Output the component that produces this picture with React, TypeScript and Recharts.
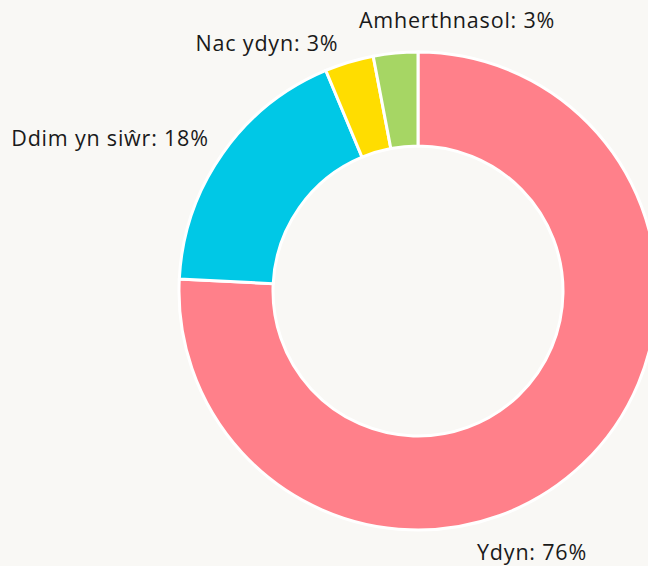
import React from "react";
import { PieChart, Pie, Cell } from "recharts";

// answer categories (Welsh) and their share of responses (%)
const categories: string[] = ["Ydyn", "Ddim yn siŵr", "Nac ydyn", "Amherthnasol"];
const shares: number[] = [75.8, 17.9, 3.3, 3.0];

const colors = ["#ff808a", "#00c8e6", "#ffdd00", "#a6d664"];

// label anchor offsets from the pie centre (text centre x, baseline y)
const labelOffsets = [
  { dx: 114, dy: 269 },
  { dx: -308, dy: -145 },
  { dx: -151, dy: -240 },
  { dx: 39, dy: -263 },
];

const data = categories.map((name, i) => ({
  name,
  value: shares[i],
}));

const CX = 418;
const CY = 291;

const renderLabel = (props: any) => {
  const { index, cx, cy } = props;
  const off = labelOffsets[index];
  const d = data[index];
  return (
    <text
      x={cx + off.dx}
      y={cy + off.dy}
      textAnchor="middle"
      fill="#1a1a1a"
      fontSize={21.5}
      letterSpacing={0.8}
      fontFamily="'Open Sans', sans-serif"
    >
      {`${d.name}: ${Math.round(d.value)}%`}
    </text>
  );
};

export default function App() {
  return (
    <div
      style={{
        position: "fixed",
        left: 0,
        top: 0,
        width: 648,
        height: 566,
        background: "#f9f8f5",
        overflow: "hidden",
      }}
    >
      <PieChart width={648} height={566} margin={{ top: 0, right: 0, bottom: 0, left: 0 }}>
        <Pie
          data={data}
          dataKey="value"
          nameKey="name"
          cx={CX}
          cy={CY}
          innerRadius={145}
          outerRadius={239}
          startAngle={90}
          endAngle={-270}
          stroke="#ffffff"
          strokeWidth={3}
          label={renderLabel}
          labelLine={false}
          isAnimationActive={false}
        >
          {data.map((d, i) => (
            <Cell key={d.name} fill={colors[i]} />
          ))}
        </Pie>
      </PieChart>
    </div>
  );
}
